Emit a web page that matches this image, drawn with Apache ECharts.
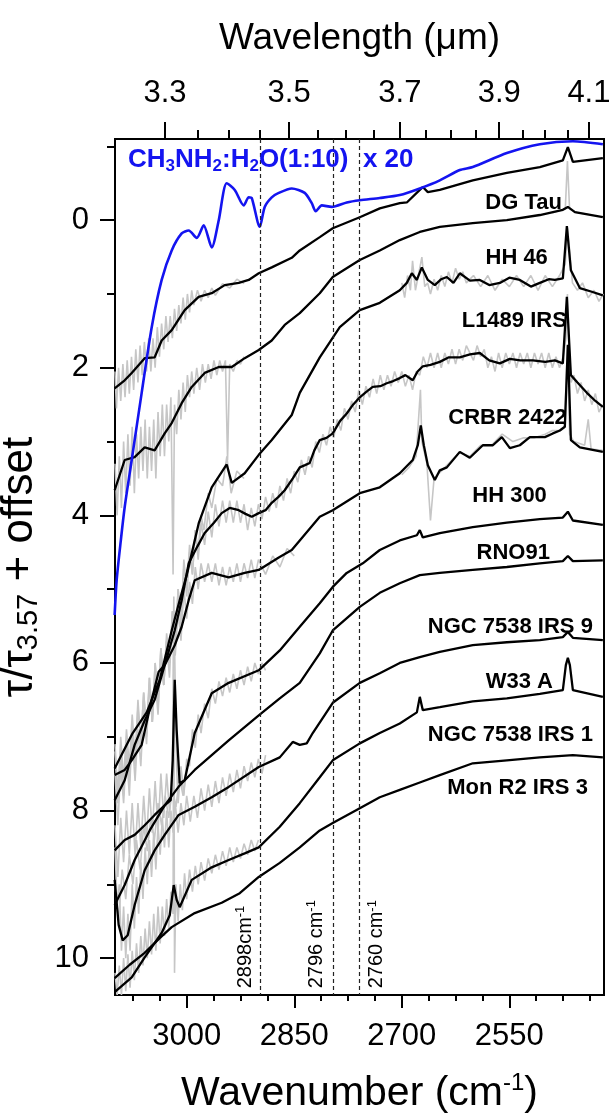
<!DOCTYPE html>
<html><head><meta charset="utf-8">
<script src="https://cdn.jsdelivr.net/npm/echarts@6/dist/echarts.min.js"></script>
<style>html,body{margin:0;padding:0;background:#fff}#c{width:612px;height:1115px}</style>
</head><body><div id="c"></div>
<script>
// ---------- axes ----------
const X_MIN = 2418, X_MAX = 3100;
const Y_MIN = -1.1, Y_MAX = 10.5;
const WN_TICKS = [3000, 2850, 2700, 2550];
const WN_MINOR = [3075, 3037.5, 2962.5, 2925, 2887.5, 2812.5, 2775, 2737.5, 2662.5, 2625, 2587.5, 2512.5, 2475, 2437.5];
const WL_TICKS = [3.3, 3.5, 3.7, 3.9, 4.1];
const WL_MINOR = [3.35, 3.4, 3.45, 3.55, 3.6, 3.65, 3.75, 3.8, 3.85, 3.95, 4.0, 4.05];
const Y_TICKS = [0, 2, 4, 6, 8, 10];
const Y_MINOR = [-1, 1, 3, 5, 7, 9];
const MARKER_WN = [2898, 2796, 2760];
const MARKER_TEXT = ['2898cm', '2796 cm', '2760 cm'];

// ---------- spectra [wavenumber, tau/tau3.57 + offset] ----------
const LAB_CH3NH2 = [[3100.5,5.35],[3097.7,4.88],[3092,4.35],[3086.5,3.89],[3076.7,3.25],[3062.8,2.34],[3048.8,1.45],[3034.9,0.81],[3020.9,0.41],[3007,0.18],[2997.2,0.14],[2986,0.24],[2976.3,0.07],[2965.1,0.37],[2955.3,0.0],[2944.2,-0.5],[2933,-0.41],[2920.5,-0.2],[2913.5,-0.31],[2909.3,-0.3],[2898.1,0.09],[2891.2,-0.18],[2881.4,-0.31],[2871.6,-0.37],[2853.5,-0.43],[2835.4,-0.37],[2825.6,-0.23],[2820,-0.12],[2811.6,-0.2],[2797.7,-0.18],[2776.8,-0.24],[2758.6,-0.27],[2730.7,-0.3],[2702.8,-0.34],[2674.9,-0.43],[2647,-0.54],[2619.1,-0.68],[2601,-0.72],[2553.5,-0.91],[2507.5,-1.03],[2461.4,-1.07],[2419.6,-1.03]];
const DG_TAU = [[3100.5,2.28],[3086.5,2.17],[3076.7,2.07],[3058.6,1.87],[3044.7,1.86],[3034.9,1.63],[3020.9,1.49],[3002.8,1.22],[2983.3,1.04],[2965.1,0.99],[2947,0.88],[2927.4,0.85],[2913.5,0.81],[2899.5,0.72],[2881.4,0.64],[2853.5,0.51],[2842.3,0.41],[2814.4,0.23],[2796.3,0.11],[2758.6,-0.04],[2730.7,-0.16],[2702.8,-0.23],[2693,-0.24],[2674.9,-0.41],[2670.7,-0.45],[2663.7,-0.38],[2647,-0.41],[2601,-0.54],[2553.5,-0.64],[2507.5,-0.72],[2475.4,-0.81],[2468.4,-0.99],[2461.4,-0.79],[2419.6,-0.84]];
const HH_46 = [[3100.5,3.66],[3086.5,3.25],[3072.6,3.21],[3058.6,3.08],[3044.7,3.12],[3030.7,2.89],[3020.9,2.75],[3007,2.48],[2993,2.26],[2974.9,2.07],[2955.3,1.99],[2937.2,1.99],[2919.1,1.87],[2899.5,1.76],[2881.4,1.63],[2863.3,1.42],[2842.3,1.26],[2814.4,0.99],[2796.3,0.77],[2758.6,0.54],[2730.7,0.41],[2702.8,0.27],[2674.9,0.16],[2647,0.09],[2601,0.04],[2553.5,0.0],[2507.5,-0.07],[2475.4,-0.14],[2468.4,-0.18],[2458.6,-0.11],[2419.6,-0.04]];
const L1489_IRS = [[3100.5,7.43],[3075.3,6.95],[3055.8,6.67],[3037.7,6.23],[3020.9,5.56],[3009.8,5.15],[3000,4.81],[2983.3,4.11],[2965.1,3.62],[2944.2,3.31],[2937.2,3.56],[2919.1,3.43],[2899.5,3.18],[2881.4,2.98],[2853.5,2.64],[2842.3,2.34],[2814.4,1.86],[2786.5,1.45],[2758.6,1.22],[2730.7,1.12],[2702.8,0.95],[2693,0.85],[2686,0.72],[2679,0.81],[2672.1,0.64],[2663.7,0.81],[2654,0.88],[2645,0.8],[2637.2,0.77],[2628,0.85],[2619.1,0.72],[2605,0.82],[2591.2,0.81],[2578,0.88],[2563.3,0.85],[2550,0.78],[2535.4,0.81],[2520,0.9],[2507.5,0.85],[2495,0.8],[2486.5,0.81],[2475.4,0.79],[2469.8,0.08],[2464.2,0.68],[2451.7,0.92],[2435,0.97],[2419.6,1.02]];
const CRBR_2422 = [[3100.5,7.86],[3086.5,7.59],[3072.6,7.11],[3058.6,6.78],[3044.7,6.5],[3030.7,6.03],[3016.7,5.56],[3007,5.15],[2997.2,4.65],[2985,4.42],[2974.9,4.24],[2962,4.1],[2951.2,3.97],[2940,3.9],[2927.4,3.93],[2918,3.98],[2909.3,4.02],[2899.5,3.97],[2890,3.93],[2881.4,3.83],[2872,3.75],[2863.3,3.66],[2852,3.5],[2842.3,3.35],[2835,3.32],[2828.4,3.29],[2822,3.12],[2814.4,2.98],[2805,2.95],[2796.3,2.89],[2786,2.72],[2776.8,2.62],[2768,2.5],[2758.6,2.4],[2750,2.33],[2740.5,2.26],[2730,2.25],[2721,2.21],[2712,2.18],[2702.8,2.14],[2695,2.1],[2684.7,2.17],[2678,2.05],[2670.7,1.98],[2660,1.96],[2647,1.92],[2635,1.86],[2619.1,1.86],[2605,1.82],[2591.2,1.8],[2578,1.9],[2563.3,1.94],[2549.3,1.88],[2535,1.9],[2517.2,1.9],[2500,1.92],[2486.5,1.9],[2475.4,1.94],[2469.8,1.04],[2464.2,2.1],[2455,2.2],[2441.9,2.34],[2430,2.45],[2419.6,2.53]];
const HH_300 = [[3100.5,7.52],[3086.5,7.45],[3076.7,7.32],[3062.8,7.11],[3048.8,6.5],[3039.1,6.12],[3030.7,6.03],[3016.7,5.76],[3007,5.51],[2997.2,5.15],[2988.8,4.88],[2965.1,4.78],[2941.4,4.84],[2919.1,4.78],[2899.5,4.74],[2871.6,4.57],[2853.5,4.47],[2842.3,4.34],[2814.4,4.02],[2796.3,3.93],[2758.6,3.7],[2730.7,3.62],[2702.8,3.43],[2684.7,3.25],[2677.7,3.05],[2673.5,2.78],[2669.3,3.05],[2663.7,3.32],[2654,3.52],[2647,3.39],[2637.2,3.35],[2619.1,3.14],[2605.2,3.22],[2587,3.05],[2573,3.05],[2560.5,2.94],[2549.3,3.09],[2535.4,3.05],[2521.4,2.94],[2500.5,2.94],[2489.3,2.89],[2479.5,2.85],[2472.6,2.8],[2468.4,1.69],[2464.2,2.98],[2451.7,3.08],[2419.6,3.14]];
const RNO_91 = [[3100.5,8.54],[3086.5,8.4],[3072.6,8.33],[3058.6,8.2],[3044.7,8.06],[3030.7,7.93],[3022.3,7.86],[3019.5,7.32],[3016.7,6.23],[3014,6.91],[3009.8,7.63],[3002.8,7.59],[2988.8,6.95],[2965.1,6.41],[2941.4,6.27],[2899.5,6.1],[2870.2,5.83],[2842.3,5.51],[2814.4,5.19],[2796.3,4.97],[2776.8,4.78],[2754.4,4.65],[2730.7,4.47],[2702.8,4.34],[2679,4.27],[2674.9,4.2],[2670.7,4.3],[2647,4.24],[2601,4.16],[2553.5,4.1],[2507.5,4.05],[2475.4,4.03],[2468.4,3.95],[2461.4,4.07],[2419.6,4.13]];
const NGC7538_IRS9 = [[3100.5,9.28],[3086.5,9.01],[3072.6,8.67],[3051.6,8.27],[3030.7,7.93],[3009.8,7.66],[2988.8,7.45],[2965.1,7.25],[2941.4,7.05],[2899.5,6.71],[2870.2,6.48],[2842.3,6.27],[2814.4,5.87],[2796.3,5.56],[2758.6,5.24],[2730.7,5.05],[2702.8,4.92],[2674.9,4.81],[2647,4.78],[2601,4.74],[2553.5,4.7],[2507.5,4.65],[2475.4,4.62],[2468.4,4.55],[2461.4,4.62],[2419.6,4.61]];
const W33_A = [[3100.5,8.94],[3094.9,9.55],[3089.3,9.76],[3082.3,9.69],[3072.6,9.28],[3058.6,8.81],[3044.7,8.54],[3030.7,8.33],[3011.2,8.06],[2988.8,7.95],[2965.1,7.82],[2941.4,7.68],[2899.5,7.41],[2870.2,7.28],[2852.1,7.07],[2842.3,7.11],[2832.6,7.09],[2824.2,6.95],[2796.3,6.54],[2758.6,6.27],[2730.7,6.14],[2702.8,6.0],[2674.9,5.92],[2647,5.85],[2601,5.76],[2553.5,5.72],[2507.5,5.69],[2475.4,5.65],[2468.4,5.58],[2461.4,5.66],[2419.6,5.69]];
const NGC7538_IRS1 = [[3100.5,10.46],[3076.7,10.26],[3058.6,9.99],[3034.9,9.66],[3023.7,9.42],[3018.1,9.01],[3014,9.21],[3009.8,9.31],[2993,8.94],[2965.1,8.77],[2941.4,8.67],[2919.1,8.58],[2899.5,8.5],[2870.2,8.22],[2842.3,7.9],[2814.4,7.55],[2796.3,7.32],[2758.6,7.09],[2730.7,6.95],[2702.8,6.82],[2679,6.67],[2674.9,6.46],[2670.7,6.64],[2647,6.6],[2601,6.52],[2553.5,6.48],[2507.5,6.42],[2475.4,6.37],[2471.2,6.03],[2468.4,5.93],[2465.6,6.03],[2461.4,6.37],[2419.6,6.46]];
const MON_R2_IRS3 = [[3100.5,10.27],[3079.5,10.09],[3058.6,9.93],[3037.7,9.73],[3020.9,9.58],[2988.8,9.39],[2951.2,9.25],[2926,9.12],[2899.5,8.9],[2870.2,8.71],[2842.3,8.5],[2814.4,8.27],[2796.3,8.17],[2758.6,7.97],[2730.7,7.82],[2702.8,7.72],[2674.9,7.62],[2647,7.52],[2601,7.36],[2553.5,7.32],[2507.5,7.28],[2461.4,7.25],[2419.6,7.28]];

// ---------- raw (unsmoothed) data, drawn in grey ----------
const RAW_DG_TAU = [[3100,2.05],[3098,2.55],[3095,2.0],[3092,2.45],[3089,1.95],[3086,2.4],[3083,1.9],[3080,2.35],[3077,1.85],[3074,2.3],[3071,1.75],[3068,2.2],[3065,1.7],[3062,2.1],[3059,1.65],[3056,2.05],[3053,1.6],[3050,2.05],[3047,1.6],[3044,2.0],[3041,1.45],[3038,1.85],[3035,1.4],[3032,1.75],[3029,1.3],[3026,1.65],[3023,1.3],[3020,1.6],[3017,1.2],[3014,1.5],[3011,1.15],[3008,1.4],[3005,1.05],[3002,1.35],[2999,1.0],[2996,1.25],[2993,0.95],[2990,1.15],[2985,0.95],[2980,1.1],[2975,0.95],[2970,1.05],[2965,0.92],[2960,1.02],[2950,0.86],[2940,0.92],[2930,0.8],[2920,0.86]];
const RAW_HH_46 = [[3100,3.3],[3097,4.0],[3094,3.2],[3091,3.9],[3088,3.0],[3085,3.7],[3082,2.9],[3079,3.6],[3076,2.8],[3073,3.7],[3070,2.9],[3067,3.5],[3064,2.8],[3061,3.4],[3058,2.7],[3055,3.5],[3052,2.8],[3049,3.4],[3046,2.7],[3043,3.5],[3040,2.6],[3037,3.2],[3034,2.5],[3031,3.2],[3028,2.5],[3025,3.0],[3022,2.4],[3019,4.8],[3017,2.5],[3014,2.9],[3011,2.3],[3008,2.7],[3005,2.2],[3002,2.6],[2999,2.1],[2996,2.4],[2993,2.05],[2990,2.35],[2986,2.0],[2982,2.3],[2978,1.95],[2974,2.2],[2970,1.95],[2966,2.15],[2962,1.9],[2958,2.1],[2954,1.9],[2950,2.05],[2946,1.9],[2943,3.25],[2940,1.95],[2935,2.05],[2930,1.9],[2925,1.95],[2920,1.85]];
const RAW_HH_46_R = [[2490,-0.1],[2480,-0.13],[2472,-0.15],[2469,-0.8],[2466,-0.15],[2455,-0.1],[2440,-0.08]];
const RAW_L1489_L = [[3100,7.1],[3096,7.8],[3092,7.0],[3088,7.6],[3084,6.9],[3080,7.4],[3076,6.7],[3072,7.3],[3068,6.5],[3064,7.1],[3060,6.4],[3056,6.9],[3052,6.2],[3048,6.8],[3044,6.0],[3040,6.6],[3036,5.8],[3032,6.3],[3028,5.6],[3024,6.0],[3020,5.3],[3016,5.8],[3012,5.0],[3008,5.4],[3004,4.7],[3000,5.1],[2996,4.5],[2992,4.8],[2988,4.2],[2984,4.5],[2980,4.0],[2976,4.2],[2970,3.7],[2965,3.9],[2958,3.5],[2950,3.6],[2944,3.2],[2938,3.7],[2930,3.4],[2920,3.5]];
const RAW_L1489_R = [[2700,0.85],[2696,1.05],[2692,0.75],[2688,0.95],[2685,0.55],[2681,0.95],[2676,0.7],[2672,0.5],[2668,0.9],[2664,0.85],[2660,1.0],[2655,0.8],[2650,0.95],[2645,0.75],[2640,0.9],[2635,0.7],[2630,0.85],[2625,0.65],[2620,0.8],[2615,0.7],[2610,0.85],[2600,0.75],[2590,0.9],[2580,0.75],[2570,0.95],[2560,0.8],[2550,0.9],[2540,0.75],[2530,0.9],[2520,0.75],[2510,0.95],[2500,0.75],[2490,0.9],[2480,0.75],[2472,0.6],[2469,0.1],[2466,0.4],[2462,0.85],[2455,0.95],[2448,0.85],[2440,1.05],[2432,0.95],[2425,1.1],[2419,1.0]];
const RAW_CRBR_2422 = [[3100,7.5],[3096,8.2],[3092,7.4],[3088,7.9],[3084,7.2],[3080,7.8],[3076,6.9],[3072,7.4],[3068,6.6],[3064,7.1],[3060,6.4],[3056,7.0],[3052,6.3],[3048,6.8],[3044,6.2],[3040,6.7],[3036,5.9],[3032,6.3],[3028,5.7],[3024,6.2],[3020,5.3],[3016,5.8],[3012,5.0],[3008,5.5],[3004,4.6],[3000,5.0],[2996,4.4],[2992,4.8],[2988,4.2],[2984,4.6],[2980,4.1],[2975,4.4],[2970,3.95],[2965,4.3],[2960,3.85],[2955,4.15],[2950,3.8],[2945,4.1],[2940,3.8],[2935,4.1],[2930,3.8],[2925,4.1],[2920,3.85],[2915,4.2],[2910,3.9],[2905,4.15],[2900,3.85],[2895,4.05],[2890,3.75],[2885,3.95],[2880,3.7],[2875,3.9],[2870,3.6],[2865,3.8],[2860,3.5],[2855,3.7],[2850,3.4],[2845,3.55],[2840,3.25],[2835,3.45],[2830,3.2],[2825,3.35],[2820,3.0],[2815,3.15],[2810,2.9],[2805,3.05],[2800,2.8],[2795,2.95],[2790,2.7],[2785,2.85],[2780,2.55],[2775,2.7],[2770,2.45],[2765,2.6],[2760,2.3],[2755,2.5],[2750,2.25],[2745,2.4],[2740,2.15],[2735,2.35],[2730,2.1],[2725,2.3],[2720,2.1],[2715,2.25],[2710,2.05],[2705,2.2],[2700,2.05],[2695,2.25],[2690,2.1],[2685,2.3],[2680,2.05],[2675,2.1],[2670,1.85],[2665,2.0],[2660,1.8],[2655,2.0],[2650,1.8],[2645,2.0],[2640,1.8],[2635,1.95],[2630,1.75],[2625,1.95],[2620,1.75],[2615,1.9],[2610,1.7],[2600,1.9],[2595,1.7],[2590,1.85],[2585,1.75],[2580,2.0],[2575,1.85],[2570,2.05],[2565,1.8],[2560,2.0],[2555,1.8],[2550,1.95],[2545,1.8],[2540,2.0],[2535,1.8],[2530,1.95],[2525,1.8],[2520,2.0],[2515,1.8],[2510,1.95],[2505,1.8],[2500,2.0],[2495,1.8],[2490,2.0],[2485,1.85],[2480,2.0],[2475,1.85],[2471,1.6],[2469,1.0],[2467,1.7],[2464,2.2],[2460,2.1],[2455,2.35],[2450,2.2],[2445,2.45],[2440,2.3],[2435,2.5],[2430,2.35],[2425,2.6],[2420,2.5]];
const RAW_HH_300_L = [[3100,7.2],[3096,7.9],[3092,7.2],[3088,7.8],[3084,7.1],[3080,7.6],[3076,7.0],[3072,7.6],[3068,6.9],[3064,7.4],[3060,6.6],[3056,7.1],[3052,6.2],[3048,6.8],[3044,6.0],[3040,6.5],[3036,5.8],[3032,6.3],[3028,5.7],[3024,6.0],[3020,5.5],[3016,5.9],[3012,5.3],[3008,5.7],[3004,5.0],[3000,5.4],[2996,4.9],[2992,5.2],[2988,4.7],[2984,5.0],[2980,4.65],[2975,4.9],[2970,4.65],[2965,4.9],[2960,4.65],[2955,4.95],[2950,4.7],[2945,4.95],[2940,4.7],[2935,4.9],[2930,4.65],[2925,4.9],[2920,4.65],[2915,4.85],[2910,4.6],[2905,4.85],[2900,4.6],[2890,4.8],[2880,4.55],[2870,4.7],[2860,4.45],[2850,4.55]];
const RAW_HH_300_R = [[2700,3.45],[2690,3.35],[2680,3.2],[2674,2.3],[2672,3.0],[2665,3.3],[2660,4.07],[2655,3.5],[2645,3.4],[2635,3.3],[2620,3.15],[2605,3.2],[2590,3.05],[2575,3.05],[2560,2.9],[2545,3.0],[2530,2.95],[2515,2.95],[2500,2.9],[2490,2.85],[2480,2.85],[2473,2.8],[2469,1.7],[2466,2.9],[2460,3.0],[2445,3.05],[2440,2.7],[2436,3.1],[2420,3.12]];
const RAW_RNO_91 = [[3100,8.2],[3096,8.9],[3092,8.1],[3088,8.7],[3084,8.0],[3080,8.6],[3076,7.9],[3072,8.6],[3068,7.9],[3064,8.5],[3060,7.8],[3056,8.4],[3052,7.7],[3048,8.3],[3044,7.6],[3040,8.3],[3036,7.5],[3032,8.1],[3028,7.5],[3024,8.0],[3020,7.6],[3018,5.1],[3016,6.3],[3014,7.4],[3012,7.9],[3008,7.4],[3004,7.8],[3000,7.3],[2996,7.4],[2992,6.9],[2988,7.15],[2984,6.7],[2980,6.95],[2975,6.55],[2970,6.75],[2965,6.35],[2960,6.55],[2955,6.25],[2950,6.45],[2945,6.2],[2940,6.4],[2935,6.15],[2930,6.35],[2925,6.1],[2920,6.3],[2915,6.05],[2910,6.25],[2905,6.0],[2900,6.15],[2895,6.0],[2890,6.1]];
const RAW_IRS9 = [[3100,9.0],[3095,9.5],[3090,8.8],[3085,9.2],[3080,8.6],[3075,9.0],[3070,8.4],[3065,8.8],[3060,8.2],[3055,8.55],[3050,8.1],[3045,8.4],[3040,7.9],[3035,8.2],[3030,7.8],[3025,8.1],[3020,7.7],[3015,7.95],[3010,7.55],[3005,7.8],[3000,7.45]];
const RAW_W33_A = [[3100,8.5],[3097,9.3],[3094,9.0],[3091,9.9],[3088,9.3],[3085,10.0],[3082,9.4],[3079,9.9],[3076,9.0],[3073,9.6],[3070,8.9],[3067,9.4],[3064,8.7],[3061,9.2],[3058,8.5],[3055,9.0],[3052,8.4],[3049,8.9],[3046,8.3],[3043,8.8],[3040,8.2],[3037,8.6],[3034,8.1],[3031,8.5],[3028,8.0],[3025,8.5],[3022,8.0],[3019,8.3],[3016,7.9],[3012,8.3],[3008,7.9],[3004,8.2],[3000,7.8],[2995,8.15],[2990,7.8],[2985,8.1],[2980,7.7],[2975,8.0],[2970,7.65],[2965,7.95],[2960,7.6],[2955,7.9],[2950,7.55],[2945,7.8],[2940,7.5],[2935,7.75],[2930,7.45],[2925,7.7],[2920,7.4],[2915,7.6],[2910,7.35],[2905,7.55],[2900,7.3],[2895,7.5],[2890,7.25]];
const RAW_IRS1 = [[3100,10.2],[3097,10.5],[3094,10.1],[3091,10.5],[3088,10.0],[3085,10.45],[3082,9.95],[3079,10.4],[3076,9.9],[3073,10.3],[3070,9.8],[3067,10.2],[3064,9.7],[3061,10.1],[3058,9.6],[3055,10.0],[3052,9.5],[3049,9.95],[3046,9.4],[3043,9.9],[3040,9.3],[3037,9.8],[3034,9.3],[3031,9.7],[3028,9.2],[3025,9.6],[3022,9.1],[3019,9.4],[3018,5.3],[3017,10.2],[3015,9.0],[3012,9.5],[3009,9.0],[3006,9.35],[3003,8.85],[3000,9.2],[2996,8.8],[2992,9.1],[2988,8.75],[2984,9.0],[2980,8.7],[2975,8.95],[2970,8.65],[2965,8.85],[2960,8.6],[2955,8.8],[2950,8.55],[2945,8.75],[2940,8.5],[2935,8.7],[2930,8.5],[2925,8.65],[2920,8.45],[2915,8.6],[2910,8.4],[2905,8.55],[2900,8.4]];

const SOURCES = [
  ['DG Tau', DG_TAU], ['HH 46', HH_46], ['L1489 IRS', L1489_IRS], ['CRBR 2422', CRBR_2422],
  ['HH 300', HH_300], ['RNO91', RNO_91], ['NGC 7538 IRS 9', NGC7538_IRS9], ['W33 A', W33_A],
  ['NGC 7538 IRS 1', NGC7538_IRS1], ['Mon R2 IRS 3', MON_R2_IRS3]
];
const RAW = [RAW_DG_TAU, RAW_HH_46, RAW_HH_46_R, RAW_L1489_L, RAW_L1489_R, RAW_CRBR_2422, RAW_HH_300_L, RAW_HH_300_R, RAW_RNO_91, RAW_IRS9, RAW_W33_A, RAW_IRS1];

// label anchors (right edge of text, vertical centre) in data coordinates
const SOURCE_LABEL_AT = [[2476.7,-0.23],[2496.3,0.51],[2469.8,1.36],[2469.8,2.68],[2497.7,3.74],[2493.5,4.51],[2433.5,5.51],[2489.3,6.26],[2433.5,6.98],[2440.5,7.70]];
const MARKER_LABEL_AT = [[2919,10.41],[2820,10.41],[2736,10.41]];
const LAB_LABEL_AT = [3081.9,-0.81];

const FONT = '"Liberation Sans", Arial, Helvetica, sans-serif';
const BLUE = '#1414f0';

const chart = echarts.init(document.getElementById('c'), null, {renderer: 'canvas'});

const series = [];
RAW.forEach((d, i) => series.push({
  type: 'line', name: 'raw' + i, data: d, showSymbol: false, symbol: 'none', silent: true, z: 1,
  lineStyle: {color: '#c6c6c6', width: 1.6}
}));
SOURCES.forEach(([name, d]) => series.push({
  type: 'line', name, data: d, showSymbol: false, symbol: 'none', z: 3,
  lineStyle: {color: '#000', width: 2.3}
}));
series.push({
  type: 'line', name: 'CH3NH2:H2O', data: LAB_CH3NH2, showSymbol: false, symbol: 'none', z: 4, smooth: 0.25,
  lineStyle: {color: BLUE, width: 2.6},
  markLine: {
    silent: true, symbol: ['none', 'none'], label: {show: false},
    lineStyle: {color: '#222', type: [4, 3], width: 1.2},
    data: MARKER_WN.map(v => ({xAxis: v}))
  }
});
// text annotations
series.push({
  type: 'scatter', name: 'labels', symbolSize: 0, silent: true, z: 6,
  itemStyle: {opacity: 1},
  data: SOURCES.map(([name], i) => ({
    value: SOURCE_LABEL_AT[i],
    label: {show: true, position: [0, 0], align: 'right', verticalAlign: 'middle', formatter: name,
      fontFamily: FONT, fontWeight: 'bold', fontSize: 22, color: '#000'}
  })).concat(MARKER_TEXT.map((t, i) => ({
    value: MARKER_LABEL_AT[i],
    label: {show: true, position: [0, 0], align: 'left', verticalAlign: 'middle', rotate: 90,
      formatter: '{a|' + t + '}{s|-1}',
      rich: {a: {fontFamily: FONT, fontSize: 20, color: '#000', lineHeight: 21, verticalAlign: 'bottom'},
             s: {fontFamily: FONT, fontSize: 13, color: '#000', lineHeight: 13, padding: [0, 0, 12, 0], verticalAlign: 'top'}}}
  }))).concat([{
    value: LAB_LABEL_AT,
    label: {show: true, position: [0, 0], align: 'left', verticalAlign: 'middle',
      formatter: '{a|CH}{s|3}{a|NH}{s|2}{a|:H}{s|2}{a|O(1:10)  x 20}',
      rich: {a: {fontFamily: FONT, fontWeight: 'bold', fontSize: 26, color: BLUE, lineHeight: 28, verticalAlign: 'top'},
             s: {fontFamily: FONT, fontWeight: 'bold', fontSize: 17, color: BLUE, lineHeight: 17, padding: [15, 0, 0, 0], verticalAlign: 'bottom'}}}
  }])
});

const axisLineStyle = {color: '#000', width: 2};
const tickLabel = {fontFamily: FONT, fontSize: 31, color: '#000'};
const plain = v => String(v);

chart.setOption({
  animation: false,
  backgroundColor: '#fff',
  grid: {left: 115, right: 8, top: 139, bottom: 120, show: true, borderColor: '#000', borderWidth: 2,
         containLabel: false, outerBoundsMode: 'none'},
  xAxis: [
    { type: 'value', position: 'bottom', min: X_MIN, max: X_MAX, inverse: true,
      axisLine: {show: true, onZero: false, lineStyle: axisLineStyle},
      axisTick: {show: true, inside: false, length: 13, lineStyle: {width: 2, color: '#000'}, customValues: WN_TICKS},
      axisLabel: Object.assign({show: true, margin: 26, customValues: WN_TICKS, formatter: plain}, tickLabel),
      splitLine: {show: false},
      name: '{a|Wavenumber (cm}{s|-1}{a|)}', nameLocation: 'middle', nameGap: 76,
      nameTextStyle: {rich: {a: {fontFamily: FONT, fontSize: 41, color: '#000', lineHeight: 43, verticalAlign: 'bottom'},
                             s: {fontFamily: FONT, fontSize: 24, color: '#000', lineHeight: 24, padding: [0, 0, 23, 0], verticalAlign: 'top'}}}
    },
    { type: 'value', position: 'bottom', offset: 0, min: X_MIN, max: X_MAX, inverse: true,
      axisLine: {show: false, onZero: false},
      axisTick: {show: true, inside: false, length: 6, lineStyle: {width: 2, color: '#000'}, customValues: WN_MINOR},
      axisLabel: {show: false}, splitLine: {show: false}
    },
    { type: 'value', position: 'top', offset: 0, min: X_MIN, max: X_MAX, inverse: true,
      axisLine: {show: true, onZero: false, lineStyle: axisLineStyle},
      axisTick: {show: true, inside: false, length: 17, lineStyle: {width: 2, color: '#000'}, customValues: WL_TICKS.map(l => 1e4 / l)},
      axisLabel: Object.assign({show: true, margin: 30, customValues: WL_TICKS.map(l => 1e4 / l),
        formatter: v => (1e4 / v).toFixed(1)}, tickLabel),
      splitLine: {show: false},
      name: 'Wavelength (\u03bcm)', nameLocation: 'middle', nameGap: 82,
      nameTextStyle: {fontFamily: FONT, fontSize: 37, color: '#000'}
    },
    { type: 'value', position: 'top', offset: 0, min: X_MIN, max: X_MAX, inverse: true,
      axisLine: {show: false, onZero: false},
      axisTick: {show: true, inside: false, length: 9, lineStyle: {width: 2, color: '#000'}, customValues: WL_MINOR.map(l => 1e4 / l)},
      axisLabel: {show: false}, splitLine: {show: false}
    }
  ],
  yAxis: [
    { type: 'value', position: 'left', min: Y_MIN, max: Y_MAX, inverse: true,
      axisLine: {show: true, onZero: false, lineStyle: axisLineStyle},
      axisTick: {show: true, inside: false, length: 15, lineStyle: {width: 2, color: '#000'}, customValues: Y_TICKS},
      axisLabel: Object.assign({show: true, margin: 26, customValues: Y_TICKS, formatter: plain}, tickLabel),
      splitLine: {show: false},
      name: '{a|\u03c4/\u03c4}{s|3.57}{a| + offset}', nameLocation: 'middle', nameGap: 52, nameRotate: 90,
      nameTextStyle: {rich: {a: {fontFamily: FONT, fontSize: 44, color: '#000', lineHeight: 46, verticalAlign: 'top'},
                             s: {fontFamily: FONT, fontSize: 29, color: '#000', lineHeight: 29, padding: [20, 0, 0, 0], verticalAlign: 'bottom'}}}
    },
    { type: 'value', position: 'left', offset: 0, min: Y_MIN, max: Y_MAX, inverse: true,
      axisLine: {show: false, onZero: false},
      axisTick: {show: true, inside: false, length: 8, lineStyle: {width: 2, color: '#000'}, customValues: Y_MINOR},
      axisLabel: {show: false}, splitLine: {show: false}
    }
  ],
  series: series
});
</script>
</body></html>
